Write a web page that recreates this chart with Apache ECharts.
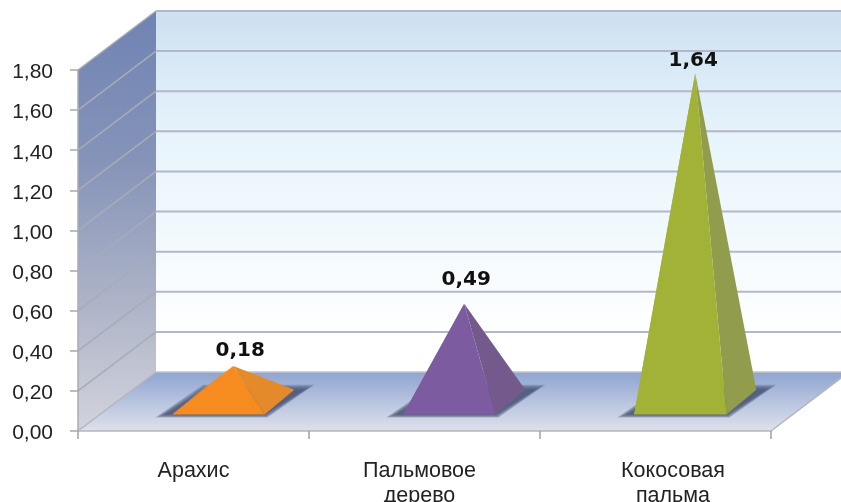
<!DOCTYPE html>
<html>
<head>
<meta charset="utf-8">
<style>html,body{margin:0;padding:0;background:#fff}#c{width:841px;height:502px}</style>
<script src="https://cdn.jsdelivr.net/npm/echarts@6/dist/echarts.min.js"></script>
</head>
<body>
<div id="c"></div>
<script>
const categories = ['Арахис', 'Пальмовое\nдерево', 'Кокосовая\nпальма'];
const values = [0.18, 0.49, 1.64];
const valueLabels = ['0,18', '0,49', '1,64'];
const frontColors = ['#f68b1f', '#7d5ba0', '#a1b236'];
const sideColors = ['#e48a2a', '#73598c', '#919c4c'];
const labelNudge = [[7, -15], [2, -24], [-2, -12]];
const yTicks = [0, 0.2, 0.4, 0.6, 0.8, 1, 1.2, 1.4, 1.6, 1.8];

const DEPTH_X = 78, DEPTH_Y = 59;
const BASE_FRONT = 0.28, BASE_BACK = 0.70, BASE_HALF = 0.2, FRONT_SHIFT = 3, TIP_SHIFT = 1.5;
const SHADOW_LAYERS = [10, 8, 6, 4, 2, 0];

const chart = echarts.init(document.getElementById('c'), null, {renderer: 'canvas'});

function renderFrame(params, api) {
  const cs = params.coordSys;
  const x0 = cs.x, x1 = cs.x + cs.width, yb = cs.y + cs.height;
  const lineStyle = (c, w) => ({stroke: c, lineWidth: w, fill: null});
  const kids = [];
  kids.push({type: 'polygon', shape: {points: [[x0 + DEPTH_X, cs.y - DEPTH_Y], [x1 + DEPTH_X, cs.y - DEPTH_Y], [x1 + DEPTH_X, yb - DEPTH_Y], [x0 + DEPTH_X, yb - DEPTH_Y]]},
    style: {fill: new echarts.graphic.LinearGradient(0, 0, 0, 1, [
      {offset: 0, color: '#cddff0'}, {offset: 0.2, color: '#dcecf8'}, {offset: 0.38, color: '#e9f5fc'},
      {offset: 0.6, color: '#f1f9fd'}, {offset: 0.9, color: '#ffffff'}, {offset: 1, color: '#ffffff'}])}});
  kids.push({type: 'polygon', shape: {points: [[x0, cs.y], [x0 + DEPTH_X, cs.y - DEPTH_Y], [x0 + DEPTH_X, yb - DEPTH_Y], [x0, yb]]},
    style: {fill: new echarts.graphic.LinearGradient(0, 0, 0, 1, [
      {offset: 0, color: '#6f83b3'}, {offset: 0.35, color: '#8593b8'}, {offset: 0.7, color: '#aeb4c8'}, {offset: 1, color: '#d2d4dc'}])}});
  kids.push({type: 'polygon', shape: {points: [[x0, yb], [x1, yb], [x1 + DEPTH_X, yb - DEPTH_Y], [x0 + DEPTH_X, yb - DEPTH_Y]]},
    style: {fill: new echarts.graphic.LinearGradient(0, 0, 0, 1, [
      {offset: 0, color: '#8ea4d0'}, {offset: 0.5, color: '#b7c3df'}, {offset: 1, color: '#dfe1ea'}])}});
  yTicks.forEach(function (t) {
    const y = api.coord([0, t])[1];
    if (t > 0) {
      kids.push({type: 'line', shape: {x1: x0, y1: y, x2: x0 + DEPTH_X, y2: y - DEPTH_Y}, style: lineStyle('#a9abb6', 1.5)});
      kids.push({type: 'line', shape: {x1: x0 + DEPTH_X, y1: y - DEPTH_Y, x2: x1 + DEPTH_X, y2: y - DEPTH_Y}, style: lineStyle('#b4b6ca', 2)});
    }
  });
  kids.push({type: 'line', shape: {x1: x0, y1: yb, x2: x0 + DEPTH_X, y2: yb - DEPTH_Y}, style: lineStyle('#b5b6bb', 1.5)});
  kids.push({type: 'line', shape: {x1: x0 + DEPTH_X, y1: yb - DEPTH_Y, x2: x1 + DEPTH_X, y2: yb - DEPTH_Y}, style: lineStyle('#c2c4cc', 1.5)});
  kids.push({type: 'line', shape: {x1: x1, y1: yb, x2: x1 + DEPTH_X, y2: yb - DEPTH_Y}, style: lineStyle('#b5b6bb', 1.5)});
  return {type: 'group', children: kids};
}

function renderPyramid(params, api) {
  const i = api.value(0), v = api.value(1);
  const base = api.coord([i, 0]);
  const band = api.size([1, 0])[0];
  const half = band * BASE_HALF;
  const at = (f, side, sh) => [base[0] + sh + f * DEPTH_X + side * half, base[1] - f * DEPTH_Y];
  const fl = at(BASE_FRONT, -1, FRONT_SHIFT), fr = at(BASE_FRONT, 1, FRONT_SHIFT);
  const bl = at(BASE_BACK, -1, 0), br = at(BASE_BACK, 1, 0);
  const mid = (BASE_FRONT + BASE_BACK) / 2;
  const tipFloor = at(mid, 0, TIP_SHIFT);
  const tip = [tipFloor[0], tipFloor[1] - (base[1] - api.coord([i, v])[1])];
  const n = labelNudge[i];
  const shadows = SHADOW_LAYERS.map(e => ({
    type: 'polygon',
    shape: {points: [[fl[0] - 7 - e, fl[1] + e * 0.3], [fr[0] + e * 0.3, fr[1] + e * 0.3], [br[0] + 10 + e, br[1] - e * 0.5], [bl[0] + 4 - e * 0.3, bl[1] - e * 0.5]]},
    style: {fill: 'rgba(72,82,115,0.27)'}
  }));
  return {type: 'group', children: shadows.concat([
    {type: 'polygon', shape: {points: [fr, br, tip]}, style: {fill: sideColors[i]}},
    {type: 'polygon', shape: {points: [bl, fl, tip]}, style: {fill: frontColors[i]}},
    {type: 'polygon', shape: {points: [fl, fr, tip]}, style: {fill: frontColors[i]}},
    {type: 'text', x: tip[0] + n[0], y: tip[1] + n[1],
      style: {text: valueLabels[i], font: 'bold 20px "DejaVu Sans"', fill: '#111', align: 'center', verticalAlign: 'middle'}}
  ])};
}

chart.setOption({
  animation: false,
  backgroundColor: '#ffffff',
  grid: {left: 78, right: 70, top: 70, bottom: 71, containLabel: false, outerBoundsMode: 'none'},
  xAxis: {
    type: 'category', data: categories, boundaryGap: true,
    axisLine: {show: true, onZero: true, lineStyle: {color: '#b5b6bb', width: 1.5}},
    axisTick: {show: true, alignWithLabel: false, length: 8, lineStyle: {color: '#9ea0a6', width: 1.5}},
    axisLabel: {
      margin: 28, color: '#222', fontFamily: 'Liberation Sans', fontSize: 21.5, lineHeight: 25, interval: 0,
      formatter: (v, i) => v.split('\n').map(l => `{c${i}|${l}}`).join('\n'),
      rich: {
        c0: {fontFamily: 'Liberation Sans', fontSize: 21.5, lineHeight: 25, color: '#222'},
        c1: {fontFamily: 'Liberation Sans', fontSize: 21.5, lineHeight: 25, color: '#222', padding: [0, 10, 0, 0]},
        c2: {fontFamily: 'Liberation Sans', fontSize: 21.5, lineHeight: 25, color: '#222', padding: [0, 0, 0, 35]}
      }
    },
    z: 10
  },
  yAxis: {
    type: 'value', min: 0, max: 1.8, interval: 0.2,
    axisLine: {show: true, lineStyle: {color: '#a9abb6', width: 1.5}},
    axisTick: {show: true, length: 8, lineStyle: {color: '#a9a9ad', width: 1.5}},
    splitLine: {show: false},
    axisLabel: {margin: 25, color: '#222', fontFamily: 'Liberation Sans', fontSize: 21,
      formatter: v => '{t|' + v.toFixed(2).replace('.', ',') + '}',
      rich: {t: {fontFamily: 'Liberation Sans', fontSize: 21, color: '#222', lineHeight: 22, padding: [5, 0, 0, 0]}}},
    z: 10
  },
  series: [
    {type: 'custom', name: 'frame', coordinateSystem: 'cartesian2d', clip: false, silent: true, z: 1,
      renderItem: renderFrame, data: [[0, 0]]},
    {type: 'custom', name: 'pyramids', coordinateSystem: 'cartesian2d', clip: false, silent: true, z: 5,
      renderItem: renderPyramid, encode: {x: 0, y: 1},
      data: values.map((v, i) => [i, v])}
  ]
});
</script>
</body>
</html>
